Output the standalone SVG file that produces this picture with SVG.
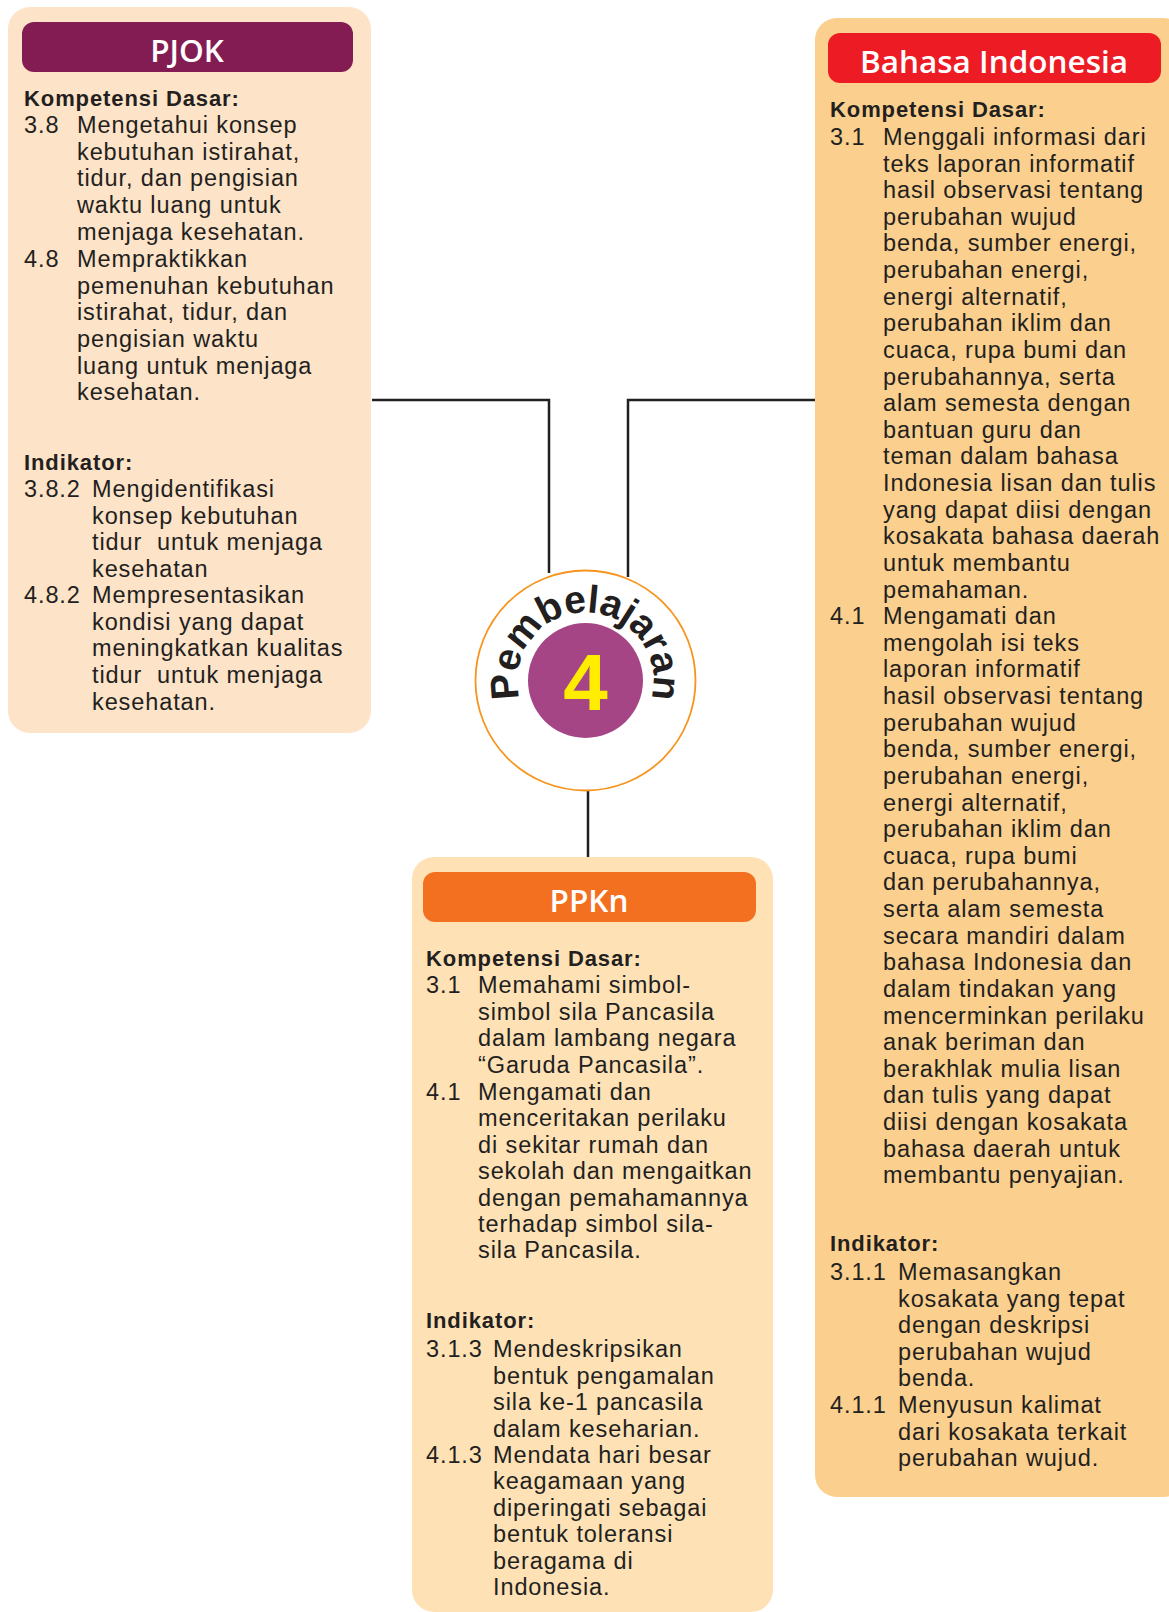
<svg xmlns="http://www.w3.org/2000/svg" width="1169" height="1612" viewBox="0 0 1169 1612">
<defs>
<style>
text{font-family:"Liberation Sans",Arial,sans-serif;fill:#231F20}
.t{font-size:23.5px;letter-spacing:0.9px}
.b{font-size:22px;font-weight:700;letter-spacing:0.9px}
.h{font-family:"Open Sans","Noto Sans",sans-serif;font-size:31.5px;font-weight:600;fill:#fff;text-anchor:middle}
.line{fill:none;stroke:#231F20;stroke-width:2.5}
</style>
<path id="arc" d="M585.5 748.5 A68 68 0 1 1 585.5 612.5 A68 68 0 1 1 585.5 748.5"/>
</defs>
<rect width="1169" height="1612" fill="#fff"/>

<g id="connectors">
<path class="line" d="M372 400 H549 V573"/>
<path class="line" d="M815 400 H628 V577"/>
<path class="line" d="M588 791 V857"/>
</g>

<g id="pjok">
<rect x="8" y="7" width="363" height="726" rx="22" fill="#FDE3C8"/>
<rect x="22" y="22" width="331" height="50" rx="12" fill="#841C54"/>
<text class="h" x="187" y="62">PJOK</text>
<text class="b" x="24" y="106">Kompetensi Dasar:</text>
<text class="t" x="24" y="133">3.8</text>
<text class="t"><tspan x="77" y="133">Mengetahui konsep</tspan><tspan x="77" dy="26.67">kebutuhan istirahat,</tspan><tspan x="77" dy="26.67">tidur, dan pengisian</tspan><tspan x="77" dy="26.67">waktu luang untuk</tspan><tspan x="77" dy="26.67">menjaga kesehatan.</tspan></text>
<text class="t" x="24" y="267">4.8</text>
<text class="t"><tspan x="77" y="267">Mempraktikkan</tspan><tspan x="77" dy="26.67">pemenuhan kebutuhan</tspan><tspan x="77" dy="26.67">istirahat, tidur, dan</tspan><tspan x="77" dy="26.67">pengisian waktu</tspan><tspan x="77" dy="26.67">luang untuk menjaga</tspan><tspan x="77" dy="26.67">kesehatan.</tspan></text>
<text class="b" x="24" y="470">Indikator:</text>
<text class="t" x="24" y="497">3.8.2</text>
<text class="t"><tspan x="92" y="497">Mengidentifikasi</tspan><tspan x="92" dy="26.67">konsep kebutuhan</tspan><tspan x="92" dy="26.67">tidur&#160; untuk menjaga</tspan><tspan x="92" dy="26.67">kesehatan</tspan></text>
<text class="t" x="24" y="603">4.8.2</text>
<text class="t"><tspan x="92" y="603">Mempresentasikan</tspan><tspan x="92" dy="26.67">kondisi yang dapat</tspan><tspan x="92" dy="26.67">meningkatkan kualitas</tspan><tspan x="92" dy="26.67">tidur&#160; untuk menjaga</tspan><tspan x="92" dy="26.67">kesehatan.</tspan></text>
</g>

<g id="bahasa">
<rect x="815" y="18" width="370" height="1479" rx="22" fill="#FBCF8D"/>
<rect x="828" y="33" width="333" height="50" rx="12" fill="#ED1C24"/>
<text class="h" x="994" y="73">Bahasa Indonesia</text>
<text class="b" x="830" y="117">Kompetensi Dasar:</text>
<text class="t" x="830" y="145">3.1</text>
<text class="t"><tspan x="883" y="145">Menggali informasi dari</tspan><tspan x="883" dy="26.62">teks laporan informatif</tspan><tspan x="883" dy="26.62">hasil observasi tentang</tspan><tspan x="883" dy="26.62">perubahan wujud</tspan><tspan x="883" dy="26.62">benda, sumber energi,</tspan><tspan x="883" dy="26.62">perubahan energi,</tspan><tspan x="883" dy="26.62">energi alternatif,</tspan><tspan x="883" dy="26.62">perubahan iklim dan</tspan><tspan x="883" dy="26.62">cuaca, rupa bumi dan</tspan><tspan x="883" dy="26.62">perubahannya, serta</tspan><tspan x="883" dy="26.62">alam semesta dengan</tspan><tspan x="883" dy="26.62">bantuan guru dan</tspan><tspan x="883" dy="26.62">teman dalam bahasa</tspan><tspan x="883" dy="26.62">Indonesia lisan dan tulis</tspan><tspan x="883" dy="26.62">yang dapat diisi dengan</tspan><tspan x="883" dy="26.62">kosakata bahasa daerah</tspan><tspan x="883" dy="26.62">untuk membantu</tspan><tspan x="883" dy="26.62">pemahaman.</tspan></text>
<text class="t" x="830" y="624.2">4.1</text>
<text class="t"><tspan x="883" y="624.2">Mengamati dan</tspan><tspan x="883" dy="26.62">mengolah isi teks</tspan><tspan x="883" dy="26.62">laporan informatif</tspan><tspan x="883" dy="26.62">hasil observasi tentang</tspan><tspan x="883" dy="26.62">perubahan wujud</tspan><tspan x="883" dy="26.62">benda, sumber energi,</tspan><tspan x="883" dy="26.62">perubahan energi,</tspan><tspan x="883" dy="26.62">energi alternatif,</tspan><tspan x="883" dy="26.62">perubahan iklim dan</tspan><tspan x="883" dy="26.62">cuaca, rupa bumi</tspan><tspan x="883" dy="26.62">dan perubahannya,</tspan><tspan x="883" dy="26.62">serta alam semesta</tspan><tspan x="883" dy="26.62">secara mandiri dalam</tspan><tspan x="883" dy="26.62">bahasa Indonesia dan</tspan><tspan x="883" dy="26.62">dalam tindakan yang</tspan><tspan x="883" dy="26.62">mencerminkan perilaku</tspan><tspan x="883" dy="26.62">anak beriman dan</tspan><tspan x="883" dy="26.62">berakhlak mulia lisan</tspan><tspan x="883" dy="26.62">dan tulis yang dapat</tspan><tspan x="883" dy="26.62">diisi dengan kosakata</tspan><tspan x="883" dy="26.62">bahasa daerah untuk</tspan><tspan x="883" dy="26.62">membantu penyajian.</tspan></text>
<text class="b" x="830" y="1251">Indikator:</text>
<text class="t" x="830" y="1280">3.1.1</text>
<text class="t"><tspan x="898" y="1280">Memasangkan</tspan><tspan x="898" dy="26.62">kosakata yang tepat</tspan><tspan x="898" dy="26.62">dengan deskripsi</tspan><tspan x="898" dy="26.62">perubahan wujud</tspan><tspan x="898" dy="26.62">benda.</tspan></text>
<text class="t" x="830" y="1413">4.1.1</text>
<text class="t"><tspan x="898" y="1413">Menyusun kalimat</tspan><tspan x="898" dy="26.62">dari kosakata terkait</tspan><tspan x="898" dy="26.62">perubahan wujud.</tspan></text>
</g>

<g id="ppkn">
<rect x="412" y="857" width="361" height="755" rx="22" fill="#FEE2B6"/>
<rect x="423" y="872" width="333" height="50" rx="12" fill="#F37021"/>
<text class="h" x="589" y="912">PPKn</text>
<text class="b" x="426" y="966">Kompetensi Dasar:</text>
<text class="t" x="426" y="993">3.1</text>
<text class="t"><tspan x="478" y="993">Memahami simbol-</tspan><tspan x="478" dy="26.67">simbol sila Pancasila</tspan><tspan x="478" dy="26.67">dalam lambang negara</tspan><tspan x="478" dy="26.67">“Garuda Pancasila”.</tspan></text>
<text class="t" x="426" y="1100">4.1</text>
<text class="t"><tspan x="478" y="1100">Mengamati dan</tspan><tspan x="478" dy="26.4">menceritakan perilaku</tspan><tspan x="478" dy="26.4">di sekitar rumah dan</tspan><tspan x="478" dy="26.4">sekolah dan mengaitkan</tspan><tspan x="478" dy="26.4">dengan pemahamannya</tspan><tspan x="478" dy="26.4">terhadap simbol sila-</tspan><tspan x="478" dy="26.4">sila Pancasila.</tspan></text>
<text class="b" x="426" y="1328">Indikator:</text>
<text class="t" x="426" y="1357">3.1.3</text>
<text class="t"><tspan x="493" y="1357">Mendeskripsikan</tspan><tspan x="493" dy="26.67">bentuk pengamalan</tspan><tspan x="493" dy="26.67">sila ke-1 pancasila</tspan><tspan x="493" dy="26.67">dalam keseharian.</tspan></text>
<text class="t" x="426" y="1463">4.1.3</text>
<text class="t"><tspan x="493" y="1463">Mendata hari besar</tspan><tspan x="493" dy="26.4">keagamaan yang</tspan><tspan x="493" dy="26.4">diperingati sebagai</tspan><tspan x="493" dy="26.4">bentuk toleransi</tspan><tspan x="493" dy="26.4">beragama di</tspan><tspan x="493" dy="26.4">Indonesia.</tspan></text>
</g>

<g id="pembelajaran">
<circle cx="585.5" cy="680.5" r="110" fill="#fff" stroke="#F7941D" stroke-width="1.8"/>
<circle cx="585.5" cy="680.5" r="57.5" fill="#A54585"/>
<text x="585.5" y="710" font-size="80" font-weight="700" text-anchor="middle" style="fill:#FFED00">4</text>
<text font-family="Open Sans, Noto Sans, sans-serif" font-size="39" font-weight="700" letter-spacing="-0.3" text-anchor="middle"><textPath href="#arc" startOffset="50%">Pembelajaran</textPath></text>
</g>
</svg>
